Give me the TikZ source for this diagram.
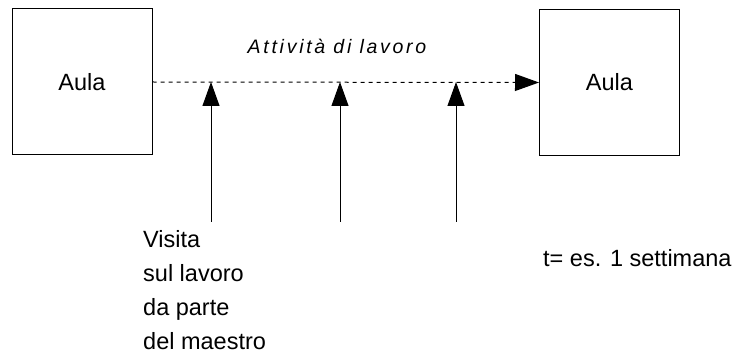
\documentclass[tikz,border=0pt]{standalone}
\usepackage{fontspec}
\setmainfont{Liberation Sans}
\usetikzlibrary{arrows.meta, positioning}

\begin{document}
\begin{tikzpicture}[
  x=1pt, y=-1pt,
  font=\fontsize{23.5}{34}\selectfont,
  room/.style={draw=black, line width=1pt, minimum width=140pt, minimum height=146pt, inner sep=0pt},
  lbl/.style={align=left, inner sep=0pt},
  ttl/.style={font=\fontsize{19.5}{22}\selectfont\itshape\addfontfeatures{LetterSpace=14}, inner sep=0pt},
  ar/.style={-{Triangle[length=24pt,width=17pt]}, line width=1pt, black},
]
\useasboundingbox (0,0) rectangle (736,358);

% ---- the two classroom blocks ----
\node[room] (aula1) at (82,82) {Aula};
\node[room] (aula2) at (609.5,82.5) {Aula};

% ---- work period between them ----
\draw[ar, dashed, dash pattern=on 4pt off 4pt] (aula1.east) -- (aula2.west);
\node[ttl] (work) at (337,46) {Attività di lavoro};

% ---- visits of the teacher ----
\foreach \v/\xx in {1/211, 2/340, 3/456} {
  \coordinate (v\v) at (\xx,222);
  \coordinate (t\v) at (\xx,82);
  \draw[ar] (v\v) -- (t\v);
}
\node[lbl, anchor=north west] (visit) at (143,230) {Visita\\sul lavoro\\da parte\\del maestro};
\node[lbl, anchor=west] (time) at (543,258) {t= es. 1 settimana};
\end{tikzpicture}
\end{document}
